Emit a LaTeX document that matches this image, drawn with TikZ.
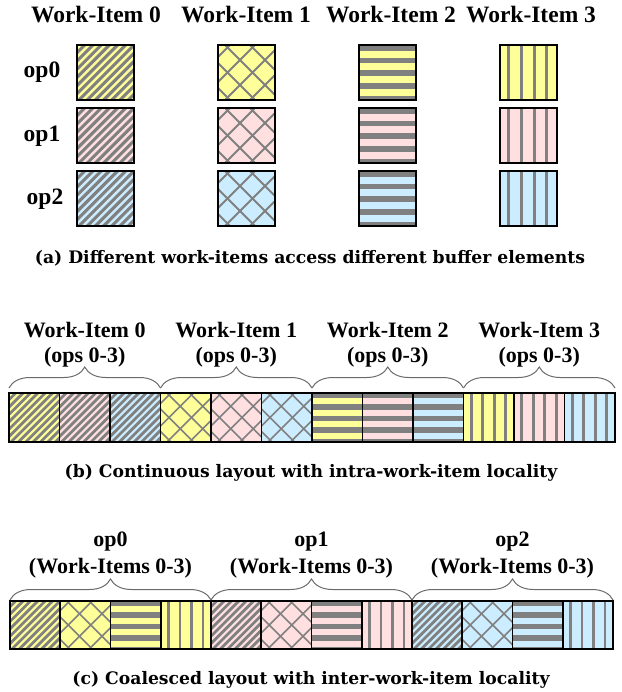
\documentclass[tikz,border=0pt]{standalone}
\usepackage{fontspec}
\setmainfont{Liberation Serif}
\newfontfamily\capfont{DejaVu Serif}
\usetikzlibrary{decorations.pathreplacing}

\definecolor{celly}{HTML}{FFFF99}
\definecolor{cellp}{HTML}{FFDFDF}
\definecolor{cellb}{HTML}{CCECFF}
\definecolor{hatch}{HTML}{808080}
\definecolor{bracegray}{HTML}{6A6A6A}

% hatch fillers: #1,#2 top-left, #3,#4 bottom-right, #5 scale
\newcommand{\hatchdiag}[5]{%
  \foreach \k in {-9,...,9}{%
    \draw[hatch,line width={3.1pt*#5}] ({#1+\k*8.2*#5},{#4+2}) -- ++(80,-80);}}
\newcommand{\hatchcross}[5]{%
  \foreach \k in {-5,...,5}{%
    \draw[hatch,line width={1.8pt*#5}] ({#1+(\k*25+5)*#5},{#4+2}) -- ++(80,-80);
    \draw[hatch,line width={1.8pt*#5}] ({#1+(\k*25+5)*#5},{#2-2}) -- ++(80,80);}}
\newcommand{\hatchhoriz}[5]{%
  \foreach \k in {0,...,5}{%
    \fill[hatch] (#1,{#2+\k*12.7*#5}) rectangle (#3,{#2+(\k*12.7+5.8)*#5});}}
\newcommand{\hatchvert}[5]{%
  \foreach \k in {0,...,5}{%
    \fill[hatch] ({#1+(7+\k*12.8)*#5},#2) rectangle ({#1+(10+\k*12.8)*#5},#4);}}

% one patterned cell: #1 hatch kind, #2 colour, #3..#6 corners, #7 scale
\newcommand{\patcell}[7]{%
  \begin{scope}
    \clip (#3,#4) rectangle (#5,#6);
    \fill[#2] (#3,#4) rectangle (#5,#6);
    \csname hatch#1\endcsname{#3}{#4}{#5}{#6}{#7}
  \end{scope}}

\tikzset{
  head/.style={font=\bfseries\fontsize{23.5}{27}\selectfont, inner sep=0pt},
  grplabel/.style={font=\bfseries\fontsize{22}{26}\selectfont, inner sep=0pt},
  caption/.style={font=\capfont\bfseries\fontsize{17.2}{20}\selectfont, inner sep=0pt},
  grpbrace/.style={decorate, decoration={brace, amplitude=21pt}, draw=bracegray, line width=1pt},
}

\begin{document}
\begin{tikzpicture}[x=1pt,y=-1pt]
  \useasboundingbox (0,0) rectangle (621,692);

  % ---------- (a) grid of work-items by ops ----------
  \foreach \lab/\cx in {0/96,1/246,2/391,3/531}
    \node[head] (wi\lab) at (\cx,15) {Work-Item \lab};
  \node[head] (opa0) at (42,72) {op0};
  \node[head] (opa1) at (42,136) {op1};
  \node[head] (opa2) at (45,199) {op2};

  \foreach \kind [count=\c from 0] in {diag,cross,horiz,vert}{
    \foreach \col/\y in {celly/45,cellp/108,cellb/171}{
      \pgfmathsetmacro{\xa}{77+141*\c}
      \patcell{\kind}{\col}{\xa}{\y}{\xa+57}{\y+55}{1}
      \draw[line width=2.4pt] (\xa,\y) rectangle (\xa+57,\y+55);
    }
  }
  \node[caption] (capa) at (310,258) {(a) Different work-items access different buffer elements};

  % ---------- (b) continuous layout ----------
  \foreach \kind [count=\w from 0] in {diag,cross,horiz,vert}{
    \foreach \col [count=\o from 0] in {celly,cellp,cellb}{
      \pgfmathsetmacro{\xa}{9+50.5*(3*\w+\o)}
      \patcell{\kind}{\col}{\xa}{393}{\xa+50.5}{442}{0.9}
      \draw[line width=1.6pt] (\xa,393) rectangle (\xa+50.5,442);
    }
  }
  \draw[line width=2pt] (9,393) rectangle (615,442);
  \foreach \w in {0,...,3}{
    \pgfmathsetmacro{\xa}{9+151.5*\w}
    \draw[grpbrace] (\xa,388) -- (\xa+151.5,388);
    \node[grplabel] (bw\w) at (\xa+75.75,330) {Work-Item \w};
    \node[grplabel] (bo\w) at (\xa+75.75,357) {(ops 0-3)};
  }
  \node[caption] (capb) at (311,473) {(b) Continuous layout with intra-work-item locality};

  % ---------- (c) coalesced layout ----------
  \foreach \col [count=\o from 0] in {celly,cellp,cellb}{
    \foreach \kind [count=\w from 0] in {diag,cross,horiz,vert}{
      \pgfmathsetmacro{\xa}{10+50.25*(4*\o+\w)}
      \patcell{\kind}{\col}{\xa}{601}{\xa+50.25}{649}{0.9}
      \draw[line width=1.6pt] (\xa,601) rectangle (\xa+50.25,649);
    }
  }
  \draw[line width=2pt] (10,601) rectangle (613,649);
  \foreach \o in {0,1,2}{
    \pgfmathsetmacro{\xa}{10+201*\o}
    \draw[grpbrace] (\xa,600) -- (\xa+201,600);
    \node[grplabel] (co\o) at (\xa+100.5,542) {op\o};
    \node[grplabel] (cw\o) at (\xa+100.5,568) {(Work-Items 0-3)};
  }
  \node[caption] (capc) at (311,680) {(c) Coalesced layout with inter-work-item locality};
\end{tikzpicture}
\end{document}
